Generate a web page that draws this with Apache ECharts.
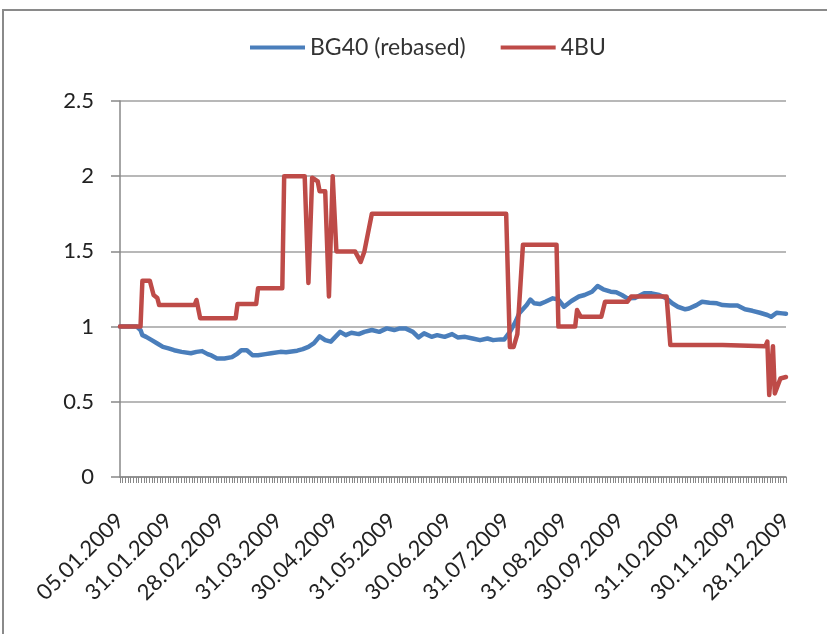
<!DOCTYPE html>
<html>
<head>
<meta charset="utf-8">
<script src="https://cdn.jsdelivr.net/npm/echarts@6/dist/echarts.min.js"></script>
<style>
html,body{margin:0;padding:0;background:#fff;}
#chart{width:827px;height:634px;}
</style>
</head>
<body>
<div id="chart"></div>
<script>
// Axis label dates
const labelDates = ['2009-01-05','2009-01-31','2009-02-28','2009-03-31','2009-04-30','2009-05-31','2009-06-30','2009-07-31','2009-08-31','2009-09-30','2009-10-31','2009-11-30','2009-12-28'];

// BG40 (rebased)
const bgDates = ['2009-01-05','2009-01-14','2009-01-16','2009-01-17','2009-01-19','2009-01-22','2009-01-25','2009-01-28','2009-01-31','2009-02-03',
'2009-02-07','2009-02-12','2009-02-15','2009-02-18','2009-02-21','2009-02-23','2009-02-26','2009-03-02','2009-03-06','2009-03-09',
'2009-03-11','2009-03-14','2009-03-17','2009-03-20','2009-03-24','2009-03-27','2009-04-01','2009-04-04','2009-04-07','2009-04-10',
'2009-04-13','2009-04-16','2009-04-19','2009-04-22','2009-04-25','2009-04-28','2009-05-03','2009-05-06','2009-05-09','2009-05-13',
'2009-05-16','2009-05-20','2009-05-24','2009-05-28','2009-06-01','2009-06-04','2009-06-07','2009-06-11','2009-06-14','2009-06-17',
'2009-06-21','2009-06-24','2009-06-28','2009-07-02','2009-07-05','2009-07-09','2009-07-13','2009-07-17','2009-07-21','2009-07-24',
'2009-07-28','2009-07-30','2009-08-02','2009-08-05','2009-08-07','2009-08-11','2009-08-13','2009-08-15','2009-08-18','2009-08-21',
'2009-08-25','2009-08-28','2009-08-31','2009-09-04','2009-09-08','2009-09-11','2009-09-15','2009-09-18','2009-09-21','2009-09-25',
'2009-09-28','2009-10-01','2009-10-04','2009-10-08','2009-10-13','2009-10-17','2009-10-21','2009-10-25','2009-10-28','2009-10-31',
'2009-11-04','2009-11-06','2009-11-10','2009-11-13','2009-11-17','2009-11-21','2009-11-24','2009-11-28','2009-12-02','2009-12-06',
'2009-12-10','2009-12-14','2009-12-18','2009-12-20','2009-12-23','2009-12-26','2009-12-28'];
const bgValues = [1.0,1.0,0.977,0.943,0.932,0.91,0.888,0.865,0.855,0.843,
0.832,0.823,0.832,0.837,0.817,0.808,0.788,0.788,0.797,0.821,
0.843,0.843,0.81,0.81,0.817,0.823,0.832,0.83,0.835,0.84,
0.85,0.865,0.89,0.935,0.91,0.9,0.965,0.943,0.959,0.95,
0.965,0.977,0.965,0.988,0.977,0.988,0.988,0.965,0.928,0.955,
0.932,0.943,0.932,0.95,0.928,0.932,0.921,0.91,0.921,0.91,
0.915,0.915,0.965,1.032,1.088,1.143,1.18,1.155,1.15,1.165,
1.188,1.18,1.132,1.17,1.2,1.21,1.232,1.27,1.248,1.232,
1.228,1.21,1.188,1.19,1.221,1.221,1.21,1.188,1.155,1.132,
1.115,1.12,1.143,1.165,1.159,1.155,1.143,1.14,1.14,1.115,
1.105,1.092,1.077,1.065,1.092,1.088,1.085];

// 4BU
const buDates = ['2009-01-05','2009-01-16','2009-01-17','2009-01-21','2009-01-23','2009-01-25','2009-01-26','2009-02-14','2009-02-15','2009-02-17',
'2009-03-08','2009-03-09','2009-03-19','2009-03-20','2009-04-02','2009-04-03','2009-04-14','2009-04-16','2009-04-18','2009-04-21',
'2009-04-22','2009-04-25','2009-04-27','2009-04-29','2009-05-01','2009-05-11','2009-05-14','2009-05-16','2009-05-17','2009-05-20',
'2009-07-31','2009-08-02','2009-08-04','2009-08-06','2009-08-09','2009-08-27','2009-08-28','2009-09-06','2009-09-07','2009-09-09',
'2009-09-20','2009-09-22','2009-10-04','2009-10-06','2009-10-25','2009-10-27','2009-11-24','2009-11-25','2009-12-17','2009-12-18',
'2009-12-19','2009-12-21','2009-12-22','2009-12-25','2009-12-28'];
const buValues = [1.0,1.0,1.305,1.305,1.21,1.19,1.143,1.143,1.177,1.055,
1.055,1.15,1.15,1.255,1.255,2.0,2.0,1.29,1.99,1.965,
1.9,1.9,1.2,2.0,1.5,1.5,1.43,1.5,1.5,1.75,
1.75,0.865,0.865,0.95,1.545,1.545,1.0,1.0,1.11,1.065,
1.065,1.165,1.165,1.2,1.2,0.877,0.877,0.87,0.87,0.9,
0.545,0.87,0.555,0.655,0.665];

const seriesNames = ['BG40 (rebased)', '4BU'];
const tickCount = 250; // dense category-style ticks along the date axis

function ts(s){ const p = s.split('-'); return new Date(+p[0], +p[1]-1, +p[2]).getTime(); }
function pad(n){ return (n < 10 ? '0' : '') + n; }
function fmt(v){ const d = new Date(v); return pad(d.getDate()) + '.' + pad(d.getMonth()+1) + '.' + d.getFullYear(); }

const FONT = 'Lato';
const chart = echarts.init(document.getElementById('chart'), null, {renderer: 'canvas'});
chart.setOption({
  animation: false,
  backgroundColor: '#fff',
  color: ['#4A7EBB', '#BE4B48'],
  graphic: [
    {type: 'polyline', shape: {points: [[3, 634], [3, 10], [827, 10]]}, style: {stroke: '#8a8a8a', lineWidth: 2, fill: null}, silent: true}
  ],
  legend: {
    left: 245, top: 31,
    itemWidth: 55, itemHeight: 4, itemGap: 35,
    icon: 'rect',
    textStyle: {fontFamily: FONT, fontSize: 23, color: '#333'},
    data: seriesNames
  },
  grid: {left: 120, right: 41, top: 101, bottom: 157, containLabel: false},
  xAxis: [
    {
      type: 'value', scale: true,
      min: ts(labelDates[0]), max: ts(labelDates[labelDates.length - 1]),
      axisLine: {show: true, onZero: false, lineStyle: {color: '#888', width: 1.5}},
      axisTick: {show: false},
      splitLine: {show: false},
      axisLabel: {
        customValues: labelDates.map(ts),
        rotate: 45, margin: 40,
        formatter: fmt,
        fontFamily: FONT, fontSize: 22, color: '#222'
      }
    },
    {
      type: 'value', position: 'bottom', min: 0, max: tickCount, interval: 1,
      axisLine: {show: false, onZero: false},
      axisTick: {show: true, length: 6, lineStyle: {color: '#888', width: 1}},
      axisLabel: {show: false},
      splitLine: {show: false}
    }
  ],
  yAxis: {
    type: 'value', min: 0, max: 2.5, interval: 0.5,
    axisLine: {show: true, lineStyle: {color: '#888', width: 1.5}},
    axisTick: {show: true, length: 9, lineStyle: {color: '#888', width: 1.5}},
    splitLine: {show: true, lineStyle: {color: '#a0a0a0', width: 1.5}},
    axisLabel: {margin: 26, fontFamily: FONT, fontSize: 22, color: '#222'}
  },
  series: [
    {
      name: seriesNames[0], type: 'line', xAxisIndex: 0, showSymbol: false,
      lineStyle: {width: 4.5, color: '#4A7EBB', join: 'round', cap: 'round'},
      data: bgDates.map((d, i) => [ts(d), bgValues[i]])
    },
    {
      name: seriesNames[1], type: 'line', xAxisIndex: 0, showSymbol: false,
      lineStyle: {width: 4.5, color: '#BE4B48', join: 'round', cap: 'round'},
      data: buDates.map((d, i) => [ts(d), buValues[i]])
    }
  ]
});
</script>
</body>
</html>
